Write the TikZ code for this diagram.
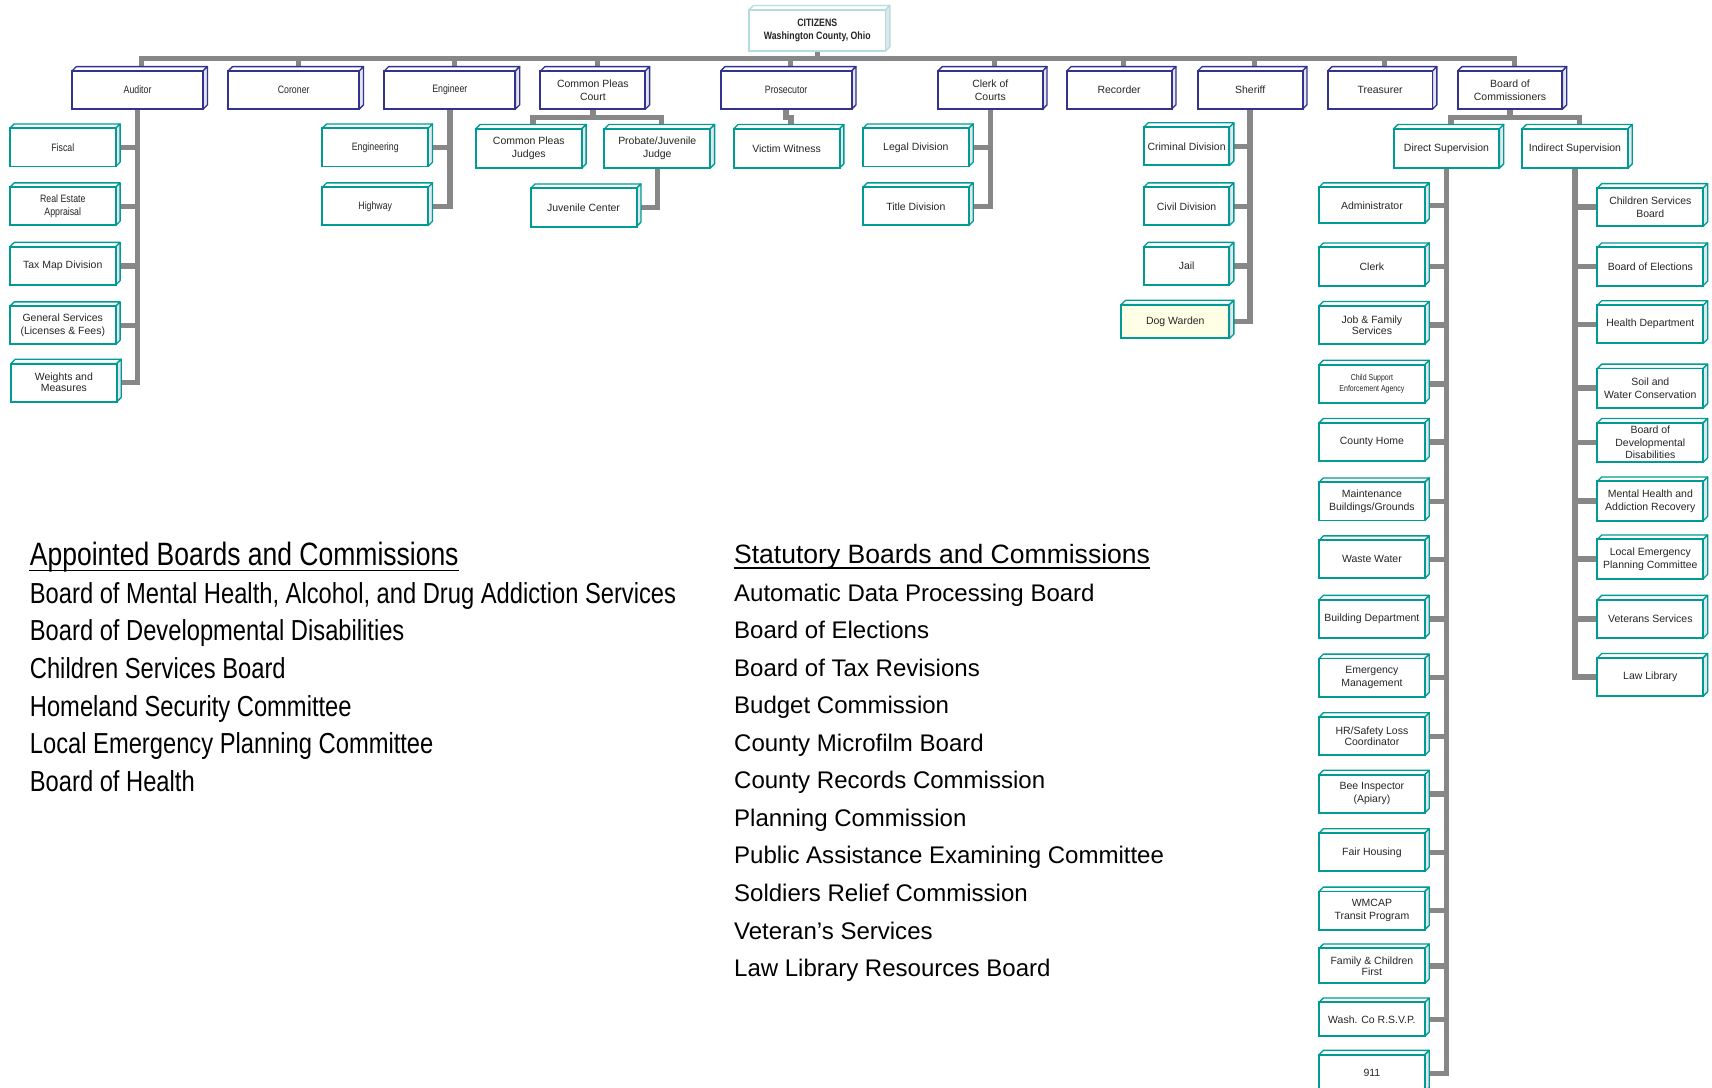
\documentclass[tikz,border=0pt]{standalone}
\usepackage{fontspec}
\setmainfont{Liberation Sans}
\newfontfamily\narrowfont{Liberation Sans}[FakeStretch=0.82]
\usetikzlibrary{calc}
\definecolor{navyb}{HTML}{32328F}
\definecolor{tealb}{HTML}{009B95}
\definecolor{palec}{HTML}{B2DEE0}
\definecolor{connc}{HTML}{878787}
\definecolor{sideg}{HTML}{E4E6EC}
\definecolor{dogy}{HTML}{FFFFE5}
\pgfdeclarelayer{connlayer}
\pgfdeclarelayer{facelayer}
\pgfsetlayers{connlayer,facelayer,main}
\newcommand\bxfont{\fontsize{4.8}{6}\selectfont}
\newcommand\nbxfont{\narrowfont\fontsize{4.9}{6}\selectfont}
\newcommand\cubefaces[2]{%
  \coordinate (#1-t) at ($(#1.north)+(4,-4)$);
  \filldraw[draw=#2, fill=white, facel] (#1.north west) -- ++(4,-4) -- ($(#1.north east)+(4,-4)$) -- (#1.north east) -- cycle;
  \filldraw[draw=#2, fill=sideg, facel] (#1.north east) -- ++(4,-4) -- ($(#1.south east)+(4,-4)$) -- (#1.south east) -- cycle;
}
\tikzset{
  facel/.style={line width=0.6pt, line join=round},
  bx/.style={draw=#1, line width=0.9pt, fill=white, text=black!85, inner sep=0pt, outer sep=0pt, align=center, font=\bxfont, minimum height=17.5pt},
  lvn/.style={bx=navyb, minimum width=48pt},
  lvw/.style={bx=navyb, minimum width=60pt, font=\nbxfont},
  chb/.style={bx=tealb, minimum width=48.5pt},
  chn/.style={chb, font=\nbxfont},
  chs/.style={bx=tealb, minimum width=39.25pt},
  tight/.style={font=\fontsize{4.8}{5}\selectfont},
  conn/.style={draw=connc, line width=2.5pt, line join=miter},
  listA/.style={anchor=base west, inner sep=0pt, font=\narrowfont\fontsize{13.25}{15}\selectfont},
  headA/.style={anchor=base west, inner sep=0pt, font=\narrowfont\fontsize{14.8}{17}\selectfont},
  listB/.style={anchor=base west, inner sep=0pt, font=\fontsize{11}{13}\selectfont},
  headB/.style={anchor=base west, inner sep=0pt, font=\fontsize{12.15}{14}\selectfont},
}
\begin{document}
\begin{tikzpicture}[x=0.5pt,y=-0.5pt]
\useasboundingbox (0,0) rectangle (1568,996);

% top
\node[bx=palec, minimum width=62.5pt, minimum height=19pt, font=\narrowfont\bfseries\fontsize{4.9}{6.2}\selectfont] (cit) at (748.5,28) {CITIZENS\\Washington County, Ohio};

% level 1
\node[lvw] (aud) at (126,82.5) {Auditor};
\node[lvw] (cor) at (269,82.5) {Coroner};
\node[lvw] (eng) at (412,82.5) {Engineer};
\node[lvn] (cpc) at (543,82.5) {Common Pleas\\Court};
\node[lvw] (pros) at (720,82.5) {Prosecutor};
\node[lvn] (clk) at (907,82.5) {Clerk of\\Courts};
\node[lvn] (rec) at (1025,82.5) {Recorder};
\node[lvn] (sher) at (1145,82.5) {Sheriff};
\node[lvn] (tre) at (1264,82.5) {Treasurer};
\node[lvn] (boc) at (1383,82.5) {Board of\\Commissioners};

% auditor
\node[chn] (a1) at (57.5,135) {Fiscal};
\node[chn] (a2) at (57.5,189) {Real Estate\\Appraisal};
\node[chb] (a3) at (57.5,243.5) {Tax Map Division};
\node[chb] (a4) at (57.5,298) {General Services\\(Licenses \& Fees)};
\node[chb, tight] (a5) at (58.5,350.5) {Weights and\\Measures};

% engineer
\node[chn] (e1) at (343.7,135) {Engineering};
\node[chn] (e2) at (343.7,189) {Highway};

% common pleas
\node[chb, minimum height=18pt] (cpj) at (484.3,136) {Common Pleas\\Judges};
\node[chb, minimum height=18pt] (pjj) at (602,136) {Probate/Juvenile\\Judge};
\node[chb] (juv) at (534.5,190) {Juvenile Center};

% prosecutor
\node[chb, minimum height=18pt] (vw) at (720.4,136) {Victim Witness};

% clerk
\node[chb] (lg) at (838.8,135) {Legal Division};
\node[chb] (td) at (838.8,189) {Title Division};

% sheriff
\node[chs] (s1) at (1086.8,134) {Criminal Division};
\node[chs] (s2) at (1086.8,189) {Civil Division};
\node[chs] (s3) at (1086.8,243.5) {Jail};
\node[bx=tealb, fill=dogy, minimum width=49.65pt, minimum height=15.5pt] (s4) at (1076.4,294.5) {Dog Warden};

% board of commissioners
\node[chb, minimum height=18pt] (ds) at (1324.8,136) {Direct Supervision};
\node[chb, minimum height=18pt] (is) at (1442.5,136) {Indirect Supervision};

% direct supervision
\node[chb, minimum height=16.5pt] (d1) at (1256.5,188) {Administrator};
\node[chb] (d2) at (1256.5,244) {Clerk};
\node[chb, tight] (d3) at (1256.5,297.6) {Job \& Family\\Services};
\node[chb, font=\narrowfont\fontsize{3.9}{4.9}\selectfont] (d4) at (1256.5,351.5) {Child Support\\Enforcement Agency};
\node[chb] (d5) at (1256.5,404.8) {County Home};
\node[chb] (d6) at (1256.5,459.2) {Maintenance\\Buildings/Grounds};
\node[chb] (d7) at (1256.5,512.3) {Waste Water};
\node[chb] (d8) at (1256.5,566.8) {Building Department};
\node[chb] (d9) at (1256.5,620.6) {Emergency\\Management};
\node[chb, tight] (d10) at (1256.5,674.3) {HR/Safety Loss\\Coordinator};
\node[chb] (d11) at (1256.5,727) {Bee Inspector\\(Apiary)};
\node[chb] (d12) at (1256.5,780.6) {Fair Housing};
\node[chb] (d13) at (1256.5,834) {WMCAP\\Transit Program};
\node[chb, tight, minimum height=16pt] (d14) at (1256.5,884.6) {Family \& Children\\First};
\node[chb, minimum height=15.5pt] (d15) at (1256.5,933.6) {Wash. Co R.S.V.P.};
\node[chb, minimum height=17pt] (d16) at (1256.5,983) {911};

% indirect supervision
\node[chb] (i1) at (1511.5,189.7) {Children Services\\Board};
\node[chb] (i2) at (1511.5,244) {Board of Elections};
\node[chb] (i3) at (1511.5,297) {Health Department};
\node[chb, minimum height=18pt] (i4) at (1511.5,355.5) {Soil and\\Water Conservation};
\node[chb, minimum height=18pt, font=\fontsize{4.8}{5.75}\selectfont] (i5) at (1511.5,405.3) {Board of\\Developmental\\Disabilities};
\node[chb, minimum height=18pt] (i6) at (1511.5,458.9) {Mental Health and\\Addiction Recovery};
\node[chb, minimum height=18pt] (i7) at (1511.5,512) {Local Emergency\\Planning Committee};
\node[chb] (i8) at (1511.5,566.8) {Veterans Services};
\node[chb] (i9) at (1511.5,620) {Law Library};

% lists
\node[headA] (hA) at (27,518) {Appointed Boards and Commissions};
\node[listA] (la1) at (27,552.5) {Board of Mental Health, Alcohol, and Drug Addiction Services};
\node[listA] (la2) at (27,587) {Board of Developmental Disabilities};
\node[listA] (la3) at (27,621.4) {Children Services Board};
\node[listA] (la4) at (27,655.9) {Homeland Security Committee};
\node[listA] (la5) at (27,690.3) {Local Emergency Planning Committee};
\node[listA] (la6) at (27,724.8) {Board of Health};
\draw[line width=0.75pt] ($(hA.base west)+(0,4.5)$) -- ($(hA.base east)+(0,4.5)$);

\node[headB] (hB) at (672,516) {Statutory Boards and Commissions};
\node[listB] (lb1) at (672,550.5) {Automatic Data Processing Board};
\node[listB] (lb2) at (672,584.9) {Board of Elections};
\node[listB] (lb3) at (672,619.3) {Board of Tax Revisions};
\node[listB] (lb4) at (672,653.7) {Budget Commission};
\node[listB] (lb5) at (672,688.1) {County Microfilm Board};
\node[listB] (lb6) at (672,722.5) {County Records Commission};
\node[listB] (lb7) at (672,756.9) {Planning Commission};
\node[listB] (lb8) at (672,791.3) {Public Assistance Examining Committee};
\node[listB] (lb9) at (672,825.7) {Soldiers Relief Commission};
\node[listB] (lb10) at (672,860.1) {Veteran’s Services};
\node[listB] (lb11) at (672,894.5) {Law Library Resources Board};
\draw[line width=0.7pt] ($(hB.base west)+(0,4)$) -- ($(hB.base east)+(0,4)$);

% 3D faces
\begin{pgfonlayer}{facelayer}
\cubefaces{cit}{palec}
\foreach \n in {aud,cor,eng,cpc,pros,clk,rec,sher,tre,boc} {\cubefaces{\n}{navyb}}
\foreach \n in {a1,a2,a3,a4,a5,e1,e2,cpj,pjj,juv,vw,lg,td,s1,s2,s3,s4,ds,is,d1,d2,d3,d4,d5,d6,d7,d8,d9,d10,d11,d12,d13,d14,d15,d16,i1,i2,i3,i4,i5,i6,i7,i8,i9} {\cubefaces{\n}{tealb}}
\end{pgfonlayer}

% connectors
\begin{pgfonlayer}{connlayer}
\coordinate (bus) at (0,54);
\coordinate (sub) at (0,107.5);
\draw[conn] (cit.south) -- (cit.south |- bus);
\draw[conn, line width=2.3pt] (aud-t) -- (aud-t |- bus) -- (boc-t |- bus) -- (boc-t);
\foreach \n in {cor,eng,cpc,pros,clk,rec,sher,tre} {\draw[conn, line width=2.3pt] (\n-t) -- (\n-t |- bus);}
% auditor
\draw[conn] (aud.south) |- (a5.east);
\foreach \c in {a1,a2,a3,a4} {\draw[conn] (\c.east) -- (\c.east -| aud.south);}
% engineer
\draw[conn] (eng.south) |- (e2.east);
\draw[conn] (e1.east) -- (e1.east -| eng.south);
% common pleas
\draw[conn] (cpc.south) -- (cpc.south |- sub);
\draw[conn] (cpj-t) -- (cpj-t |- sub) -- (pjj-t |- sub) -- (pjj-t);
\draw[conn] (pjj.south) |- (juv.east);
% prosecutor
\draw[conn] (pros.south) -- (pros.south |- sub) -| (vw-t);
% clerk
\draw[conn] (clk.south) |- (td.east);
\draw[conn] (lg.east) -- (lg.east -| clk.south);
% sheriff
\draw[conn] (sher.south) |- (s4.east);
\foreach \c in {s1,s2,s3} {\draw[conn] (\c.east) -- (\c.east -| sher.south);}
% board
\draw[conn] (boc.south) -- (boc.south |- sub);
\draw[conn] (ds-t) -- (ds-t |- sub) -- (is-t |- sub) -- (is-t);
\draw[conn] (ds.south) |- (d16.east);
\foreach \c in {d1,d2,d3,d4,d5,d6,d7,d8,d9,d10,d11,d12,d13,d14,d15} {\draw[conn] (\c.east) -- (\c.east -| ds.south);}
\draw[conn] (is.south) |- (i9.west);
\foreach \c in {i1,i2,i3,i4,i5,i6,i7,i8} {\draw[conn] (\c.west) -- (\c.west -| is.south);}
\end{pgfonlayer}
\end{tikzpicture}
\end{document}
